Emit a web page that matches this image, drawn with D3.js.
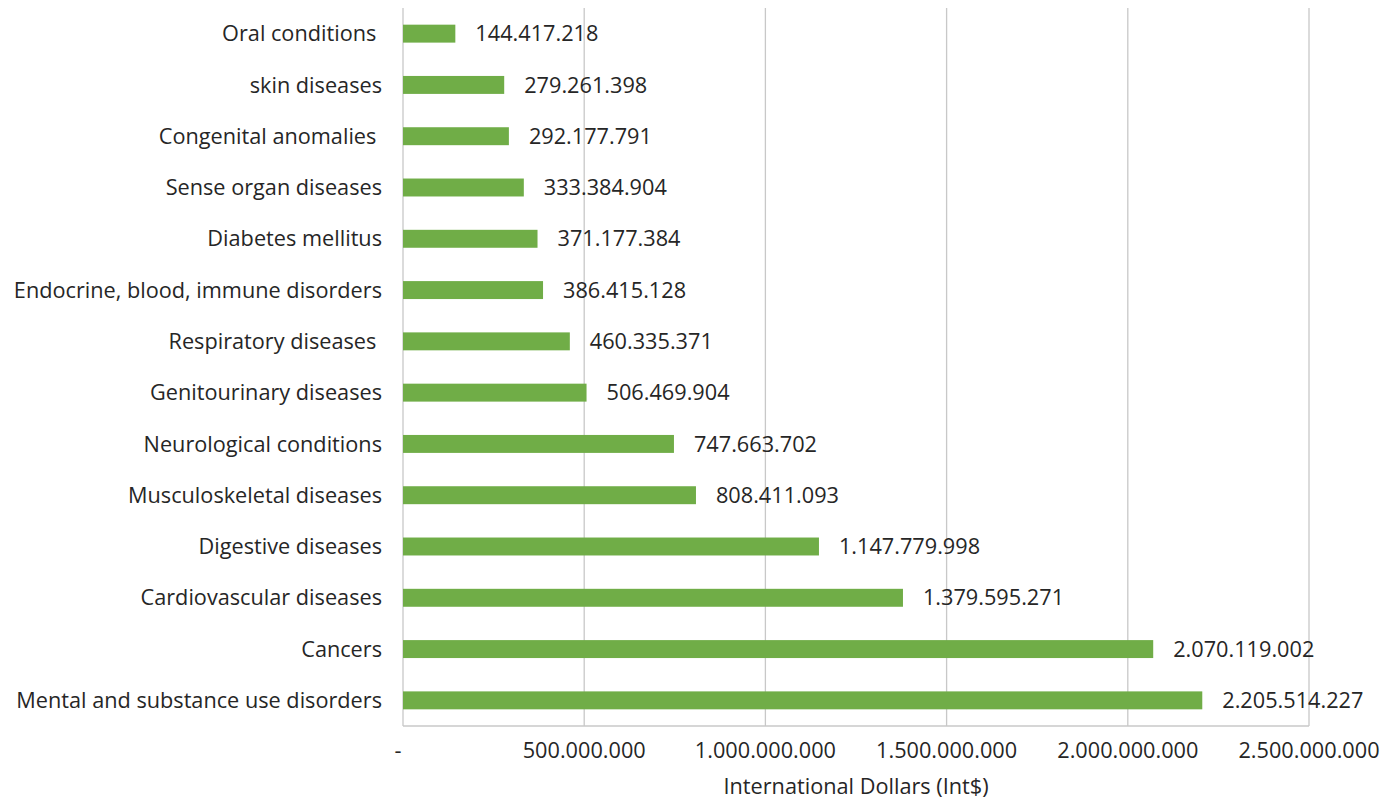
<!DOCTYPE html>
<html><head><meta charset="utf-8">
<script src="https://cdn.jsdelivr.net/npm/d3@7"></script>
<style>body{margin:0;background:#fff}svg{display:block}text{font-family:"Open Sans",sans-serif;fill:#262626;white-space:pre}</style>
</head><body><svg id="c" width="1396" height="802"></svg>
<script>
const categories = ["Oral conditions ","skin diseases","Congenital anomalies ","Sense organ diseases","Diabetes mellitus","Endocrine, blood, immune disorders","Respiratory diseases ","Genitourinary diseases","Neurological conditions","Musculoskeletal diseases","Digestive diseases","Cardiovascular diseases","Cancers","Mental and substance use disorders"];
const values = [144417218,279261398,292177791,333384904,371177384,386415128,460335371,506469904,747663702,808411093,1147779998,1379595271,2070119002,2205514227];
const tickValues = [0,500000000,1000000000,1500000000,2000000000,2500000000];
const tickLabels = ["-","500.000.000","1.000.000.000","1.500.000.000","2.000.000.000","2.500.000.000"];
const axisTitle = "International Dollars (Int$)";

const svg = d3.select("#c");
const L=403,R=1309,T=8,B=726;
const FS=21.7;
const x = d3.scaleLinear().domain([0,2500000000]).range([L,R]);
const y = d3.scaleBand().domain(categories).range([T,B]).paddingInner(0.65).paddingOuter(0.325);
const fmt = v => d3.format(",")(v).replace(/,/g,".");

svg.append("g").selectAll("line").data(tickValues.slice(1)).join("line")
  .attr("x1",d=>x(d)).attr("x2",d=>x(d)).attr("y1",T).attr("y2",B)
  .attr("stroke","#c8c8c8").attr("stroke-width",1.3);
svg.append("line").attr("x1",L).attr("x2",L).attr("y1",T).attr("y2",B).attr("stroke","#c8c8c8").attr("stroke-width",1.3);
svg.append("line").attr("x1",L).attr("x2",R).attr("y1",B).attr("y2",B).attr("stroke","#c8c8c8").attr("stroke-width",1.3);

svg.append("g").selectAll("rect").data(values).join("rect")
  .attr("x",x(0)).attr("y",(d,i)=>y(categories[i])).attr("width",d=>x(d)-x(0)).attr("height",y.bandwidth())
  .attr("fill","#70ad47");
svg.append("g").selectAll("text").data(values).join("text")
  .attr("x",d=>x(d)+20).attr("y",(d,i)=>y(categories[i])+y.bandwidth()/2).attr("dy","0.35em")
  .attr("font-size",FS).text(d=>fmt(d));
svg.append("g").selectAll("text").data(categories).join("text")
  .attr("x",L-21).attr("y",d=>y(d)+y.bandwidth()/2).attr("dy","0.35em").attr("text-anchor","end")
  .attr("font-size",FS).text(d=>d);
svg.append("g").selectAll("text").data(tickValues).join("text")
  .attr("x",(d,i)=>i===0?x(d)-5:x(d)).attr("y",750).attr("dy","0.35em").attr("text-anchor","middle")
  .attr("font-size",FS).text((d,i)=>tickLabels[i]);
svg.append("text").attr("x",(L+R)/2).attr("y",786).attr("dy","0.35em").attr("text-anchor","middle")
  .attr("font-size",FS).text(axisTitle);
</script></body></html>
